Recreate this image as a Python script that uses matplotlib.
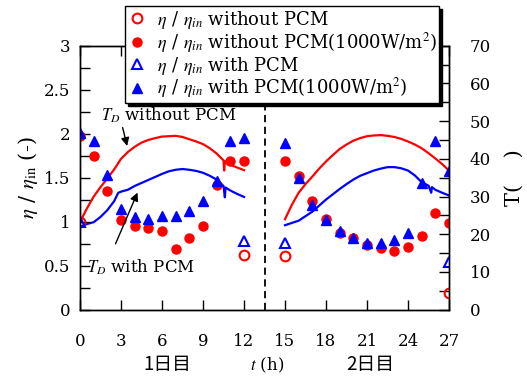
import matplotlib
matplotlib.use("Agg")
import matplotlib.pyplot as plt
import matplotlib.transforms as mtrans
from matplotlib.ticker import MultipleLocator, FixedLocator

plt.rcParams['font.family'] = ['DejaVu Serif', 'Noto Sans CJK JP', 'DejaVu Sans']
plt.rcParams['mathtext.fontset'] = 'stix'

# ---- data ----
# efficiency ratio markers
t_open = [0, 12, 15, 27]
ratio_noPCM_open = [1.00, 0.62, 0.61, 0.19]
ratio_PCM_open = [1.00, 0.78, 0.755, 0.545]

t_fill = [0, 1, 2, 3, 4, 5, 6, 7, 8, 9, 10, 11, 12,
          15, 16, 17, 18, 19, 20, 21, 22, 23, 24, 25, 26, 27]
ratio_noPCM_fill = [1.97, 1.75, 1.35, 1.02, 0.955, 0.925, 0.90, 0.69, 0.81, 0.955, 1.42, 1.69, 1.69,
                    1.69, 1.52, 1.23, 1.03, 0.875, 0.81, 0.735, 0.705, 0.67, 0.71, 0.84, 1.095, 0.99]
ratio_PCM_fill = [2.01, 1.92, 1.53, 1.15, 1.05, 1.03, 1.07, 1.07, 1.125, 1.24, 1.46, 1.92, 1.95,
                  1.90, 1.50, 1.19, 1.02, 0.89, 0.82, 0.76, 0.755, 0.79, 0.87, 1.44, 1.92, 1.58]

# temperature lines (right axis)
t_day1 = [0, 0.5, 1, 1.5, 2, 2.5, 3, 3.5, 4, 4.5, 5, 5.5, 6, 6.5, 7, 7.5, 8, 8.5, 9, 9.5,
          10, 10.5, 10.55, 10.6, 11, 11.5, 12]
TD_noPCM_day1 = [23.3, 26.8, 30.0, 32.5, 34.8, 37.2, 40.0, 41.8, 43.2, 44.3, 45.0, 45.5, 45.9, 46.0,
                 46.1, 45.8, 45.2, 44.6, 43.9, 42.8, 41.4, 39.6, 36.9, 39.4, 38.4, 37.7, 37.0]
t_day1b = [0, 0.5, 1, 1.5, 2, 2.5, 2.8, 3, 3.5, 4, 4.5, 5, 5.5, 6, 6.5, 7, 7.5, 8, 8.5, 9, 9.5,
           10, 10.5, 10.6, 10.65, 11, 11.5, 12]
TD_PCM_day1 = [22.0, 22.7, 23.2, 24.6, 26.4, 28.8, 31.0, 31.3, 31.8, 32.8, 33.6, 34.4, 35.2, 36.0,
               36.7, 37.1, 37.3, 37.1, 36.8, 36.3, 35.5, 34.5, 32.8, 29.8, 32.4, 31.6, 30.7, 29.9]
t_day2 = [15, 15.5, 16, 16.5, 17, 17.5, 18, 18.5, 19, 19.5, 20, 20.5, 21, 21.5, 22, 22.5, 23,
          23.5, 24, 24.5, 25, 25.5, 26, 26.5, 27]
TD_noPCM_day2 = [24.0, 27.8, 31.0, 33.3, 35.3, 37.4, 39.3, 41.0, 42.6, 43.8, 44.8, 45.5, 46.0, 46.2,
                 46.3, 46.1, 45.8, 45.3, 44.6, 43.8, 42.8, 41.5, 40.1, 38.6, 36.9]
t_day2b = [15, 15.5, 16, 16.5, 17, 17.5, 18, 18.5, 19, 19.5, 20, 20.5, 21, 21.5, 22, 22.5, 23,
           23.5, 24, 24.5, 25, 25.5, 25.7, 25.75, 26, 26.5, 27]
TD_PCM_day2 = [22.4, 23.0, 23.6, 24.8, 26.0, 27.6, 29.2, 30.6, 32.0, 33.3, 34.5, 35.5, 36.2, 36.9,
               37.4, 37.8, 37.8, 37.5, 36.9, 35.6, 33.8, 32.9, 31.0, 32.5, 31.8, 31.0, 30.3]

x_ticks = [0, 3, 6, 9, 12, 15, 18, 21, 24, 27]
y_ticks = [0, 0.5, 1, 1.5, 2, 2.5, 3]
y_ticklabels = ['0', '0.5', '1', '1.5', '2', '2.5', '3']
t_ticks = [0, 10, 20, 30, 40, 50, 60, 70]

RED = '#ff0000'
BLUE = '#0000ff'

fig = plt.figure(figsize=(5.27, 3.82), dpi=100)
ax = fig.add_axes([80/527, 1-309.7/382, 369/527, 264/382])
ax2 = ax.twinx()

# temperature lines
ax2.plot(t_day1, TD_noPCM_day1, color=RED, lw=1.6)
ax2.plot(t_day2, TD_noPCM_day2, color=RED, lw=1.6)
ax2.plot(t_day1b, TD_PCM_day1, color=BLUE, lw=1.6)
ax2.plot(t_day2b, TD_PCM_day2, color=BLUE, lw=1.6)
ax2.set_ylim(0, 70)

# markers on top
ax.set_zorder(ax2.get_zorder() + 1)
ax.patch.set_visible(False)
h1, = ax.plot(t_open, ratio_noPCM_open, 'o', ms=7, mfc='none', mec=RED, mew=1.5, ls='none',
              label=r'$\eta$ / $\eta_{in}$ without PCM')
h2, = ax.plot(t_fill, ratio_noPCM_fill, 'o', ms=6.5, color=RED, ls='none',
              label=r'$\eta$ / $\eta_{in}$ without PCM(1000W/m$^2$)')
h3, = ax.plot(t_open, ratio_PCM_open, '^', ms=7.5, mfc='none', mec=BLUE, mew=1.5, ls='none',
              label=r'$\eta$ / $\eta_{in}$ with PCM')
h4, = ax.plot(t_fill, ratio_PCM_fill, '^', ms=7.5, color=BLUE, ls='none',
              label=r'$\eta$ / $\eta_{in}$ with PCM(1000W/m$^2$)')

ax.axvline(13.5, color='k', ls=(0, (4, 2.5)), lw=1.3)

ax.set_xlim(0, 27)
ax.set_ylim(0, 3)
ax.xaxis.set_major_locator(FixedLocator(x_ticks))
ax.set_xticklabels([str(v) for v in x_ticks])
ax.yaxis.set_major_locator(FixedLocator(y_ticks))
ax.set_yticklabels(y_ticklabels)
ax.yaxis.set_minor_locator(MultipleLocator(0.25))
ax2.yaxis.set_major_locator(FixedLocator(t_ticks))
ax2.yaxis.set_minor_locator(MultipleLocator(5))

ax.tick_params(axis='x', which='both', direction='in', top=True, length=7, width=1, pad=17,
               labelsize=12)
ax.tick_params(axis='y', which='both', direction='in', length=7, width=1, pad=7, labelsize=12)
ax2.tick_params(axis='y', which='both', direction='in', length=7, width=1, pad=15, labelsize=12)
for a in (ax, ax2):
    for s in a.spines.values():
        s.set_linewidth(1.0)

ax.set_ylabel(r'$\eta$ / $\eta_{\mathrm{in}}$ (-)', fontsize=15, labelpad=3)
ax2.set_ylabel('T(    )', fontsize=15, labelpad=10)

# x labels
trans = mtrans.blended_transform_factory(ax.transData, ax.transAxes)
ax.text(6.4, -0.209, '1日目', transform=trans, ha='center', va='center', fontsize=13.5,
        family=['Noto Sans CJK JP'])
ax.text(13.7, -0.209, r'$t$ (h)', transform=trans, ha='center', va='center', fontsize=12)
ax.text(21.2, -0.209, '2日目', transform=trans, ha='center', va='center', fontsize=13.5,
        family=['Noto Sans CJK JP'])

# annotations
ax.annotate('', xy=(3.5, 1.83), xytext=(3.07, 2.10),
            arrowprops=dict(arrowstyle='-|>', color='k', lw=1.0, mutation_scale=12))
ax.text(6.5, 2.21, r'$T_D$ without PCM', ha='center', va='center', fontsize=12)
ax.annotate('', xy=(4.29, 1.36), xytext=(2.52, 0.72),
            arrowprops=dict(arrowstyle='-|>', color='k', lw=1.0, mutation_scale=12))
ax.text(4.5, 0.485, r'$T_D$ with PCM', ha='center', va='center', fontsize=12)

leg = ax.legend(handles=[h1, h2, h3, h4], loc='upper left', bbox_to_anchor=(0.122, 1.150),
                borderaxespad=0, fontsize=13, frameon=True, fancybox=False,
                shadow={'color': 'k', 'alpha': 1}, labelspacing=0.0, handlelength=1.0,
                handletextpad=0.6, borderpad=0.15, framealpha=1)
leg.get_frame().set_edgecolor('k')
leg.get_frame().set_linewidth(1.0)
leg.set_zorder(10)

fig.savefig('out.png', dpi=100)
